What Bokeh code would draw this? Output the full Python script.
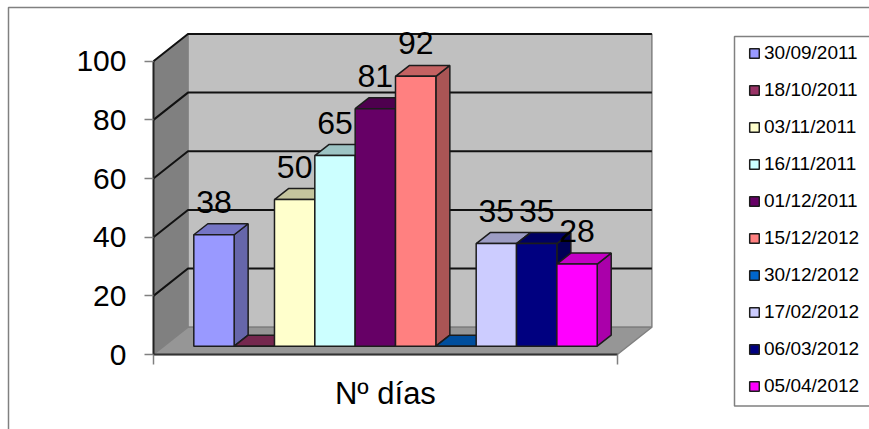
from bokeh.plotting import figure
from bokeh.models import Range1d, FixedTicker, BoxAnnotation
from bokeh.core.properties import value
from bokeh.embed import file_html
from bokeh.resources import INLINE

dates = ["30/09/2011", "18/10/2011", "03/11/2011", "16/11/2011", "01/12/2011",
         "15/12/2012", "30/12/2012", "17/02/2012", "06/03/2012", "05/04/2012"]
dias = [38, 0, 50, 65, 81, 92, 0, 35, 35, 28]
colors = ["#9999FF", "#993366", "#FFFFCC", "#CCFFFF", "#660066",
          "#FF8080", "#0066CC", "#CCCCFF", "#000080", "#FF00FF"]
y_ticks = [0, 20, 40, 60, 80, 100]
category = "Nº días"

FONT = "Liberation Sans"
EDGE = "#1c1c1c"
# 3-D projection, in data units
WALL_DX, WALL_DY = 0.855, 9.3
BAR_DX, BAR_DY = 0.347, 3.75
BAR_BASE = 2.83
X0, X1 = -1.0, 10.5


def shade(col, k):
    r, g, b = (int(col[i:i + 2], 16) for i in (1, 3, 5))
    return "#%02x%02x%02x" % (int(r * k), int(g * k), int(b * k))


p = figure(width=869, height=429, output_backend="svg", toolbar_location=None,
           x_range=Range1d(-4.792, 16.75), y_range=Range1d(-25.57, 120.7),
           min_border_left=0, min_border_top=0, min_border_right=0,
           min_border_bottom=0, outline_line_color=None)
p.grid.visible = False

# outer chart border and legend box
p.add_layout(BoxAnnotation(left=8, top=7, right=1000, bottom=1000,
                           left_units="canvas", top_units="canvas",
                           right_units="canvas", bottom_units="canvas",
                           fill_color=None, line_color="#808080", line_alpha=1,
                           line_width=1.5, level="underlay"))
p.add_layout(BoxAnnotation(left=734, top=36, right=1000, bottom=405.5,
                           left_units="canvas", top_units="canvas",
                           right_units="canvas", bottom_units="canvas",
                           fill_color="white", fill_alpha=1,
                           line_color="#808080", line_alpha=1, line_width=1.5,
                           level="underlay"))

# walls and floor
bx0, bx1 = X0 + WALL_DX, X1 + WALL_DX
top = y_ticks[-1]
p.patch([bx0, bx1, bx1, bx0], [WALL_DY, WALL_DY, top + WALL_DY, top + WALL_DY],
        fill_color="#C0C0C0", line_color="#808080", line_width=1.5)
p.patch([X0, bx0, bx0, X0], [0, WALL_DY, top + WALL_DY, top],
        fill_color="#808080", line_color="#808080", line_width=1)
p.patch([X0, X1, bx1, bx0], [0, 0, WALL_DY, WALL_DY],
        fill_color="#969696", line_color="#808080", line_width=1.5)
for t in y_ticks[1:]:
    p.line([X0, bx0, bx1], [t, t + WALL_DY, t + WALL_DY],
           line_color="#111111", line_width=2)

# bars, back to front
for i, (d, v, c) in enumerate(zip(dates, dias, colors)):
    l, r = i, i + 1
    b, t = BAR_BASE, BAR_BASE + v
    p.patch([r, r + BAR_DX, r + BAR_DX, r], [b, b + BAR_DY, t + BAR_DY, t],
            fill_color=shade(c, 0.67), line_color=EDGE, line_width=1.5)
    p.patch([l, r, r + BAR_DX, l + BAR_DX], [t, t, t + BAR_DY, t + BAR_DY],
            fill_color=shade(c, 0.77), line_color=EDGE, line_width=1.5)
    p.quad(left=l, right=r, bottom=b, top=t, fill_color=c, line_color=EDGE,
           line_width=1.5, legend_label=d)

# data labels (empty bars carry none)
shown = [i for i, v in enumerate(dias) if v > 0]
p.text([i + 0.5 for i in shown], [BAR_BASE + dias[i] for i in shown],
       text=[str(dias[i]) for i in shown], text_font=value(FONT),
       text_font_size="32px", text_color="black", text_align="center",
       text_baseline="alphabetic", y_offset=-33)

# axes live inside the frame, pinned to the front corner of the floor
ya = p.yaxis[0]
ya.fixed_location = X0
ya.bounds = (y_ticks[0], y_ticks[-1])
ya.ticker = FixedTicker(ticks=y_ticks)
ya.axis_line_color = "#222222"
ya.axis_line_width = 2
ya.major_tick_line_color = "#808080"
ya.major_tick_out = 9
ya.major_tick_in = 0
ya.major_tick_line_width = 1.5
ya.minor_tick_line_color = None
ya.major_label_text_font = FONT
ya.major_label_text_font_size = "30px"
ya.major_label_text_color = "black"
ya.major_label_standoff = 18

xa = p.xaxis[0]
mid = (X0 + X1) / 2
xa.fixed_location = 0
xa.bounds = (X0, X1)
xa.ticker = FixedTicker(ticks=[mid], minor_ticks=[X0, X1])
xa.major_label_overrides = {mid: category}
xa.axis_line_color = "#333333"
xa.axis_line_width = 2
xa.major_tick_line_color = None
xa.major_tick_out = 0
xa.major_tick_in = 0
xa.minor_tick_line_color = "#808080"
xa.minor_tick_line_width = 1.5
xa.minor_tick_out = 10
xa.minor_tick_in = 0
xa.major_label_text_font = FONT
xa.major_label_text_font_size = "31px"
xa.major_label_text_color = "black"
xa.major_label_standoff = 11

# legend
lg = p.legend[0]
lg.location = (748, 32)
lg.background_fill_alpha = 0
lg.border_line_color = None
lg.padding = 0
lg.margin = 0
lg.glyph_width = 12
lg.glyph_height = 12
lg.label_height = 19
lg.spacing = 15
lg.label_standoff = 4
lg.label_text_font = FONT
lg.label_text_font_size = "19px"
lg.label_text_color = "black"

open("out.html", "w").write(file_html(p, INLINE))
